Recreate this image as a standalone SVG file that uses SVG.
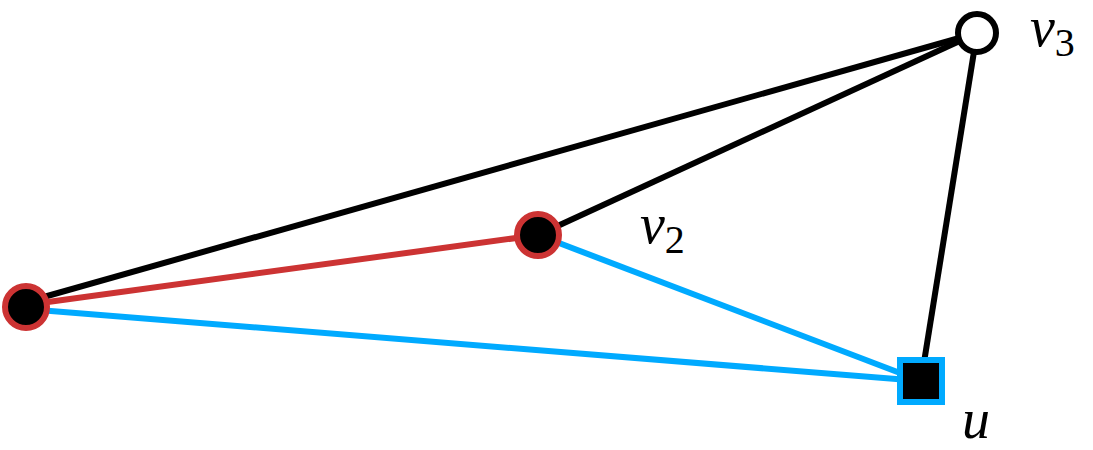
<svg xmlns="http://www.w3.org/2000/svg" width="1093" height="450" viewBox="0 0 1093 450">
<style>
.e{stroke-width:6;fill:none}
.lb{font-family:"Liberation Serif",serif;font-style:italic;font-size:56px}
.sb{font-family:"Liberation Serif",serif;font-style:normal;font-size:40px}
</style>
<rect width="1093" height="450" fill="#fff"/>
<g id="connectors">
<line class="e" stroke="#000" x1="26" y1="302" x2="977" y2="33"/>
<line class="e" stroke="#000" x1="538" y1="235" x2="977" y2="33"/>
<line class="e" stroke="#000" x1="921" y1="381" x2="977" y2="33"/>
<line class="e" stroke="#cc3333" x1="26" y1="305" x2="538" y2="235"/>
<line class="e" stroke="#00aaff" x1="26" y1="309" x2="921" y2="381"/>
<line class="e" stroke="#00aaff" x1="538" y1="235" x2="921" y2="381"/>
</g>
<g id="n1"><circle cx="26" cy="307" r="21" fill="#000" stroke="#cc3333" stroke-width="6"/></g>
<g id="v2"><circle cx="538" cy="235" r="21" fill="#000" stroke="#cc3333" stroke-width="6"/>
<text class="lb" x="640" y="243">v<tspan class="sb" dy="10">2</tspan></text></g>
<g id="v3"><circle cx="977" cy="33" r="19" fill="#fff" stroke="#000" stroke-width="6"/>
<text class="lb" x="1030" y="46">v<tspan class="sb" dy="10">3</tspan></text></g>
<g id="u"><rect x="900" y="360" width="42" height="42" fill="#000" stroke="#00aaff" stroke-width="6"/>
<text class="lb" x="962" y="438">u</text></g>
</svg>
